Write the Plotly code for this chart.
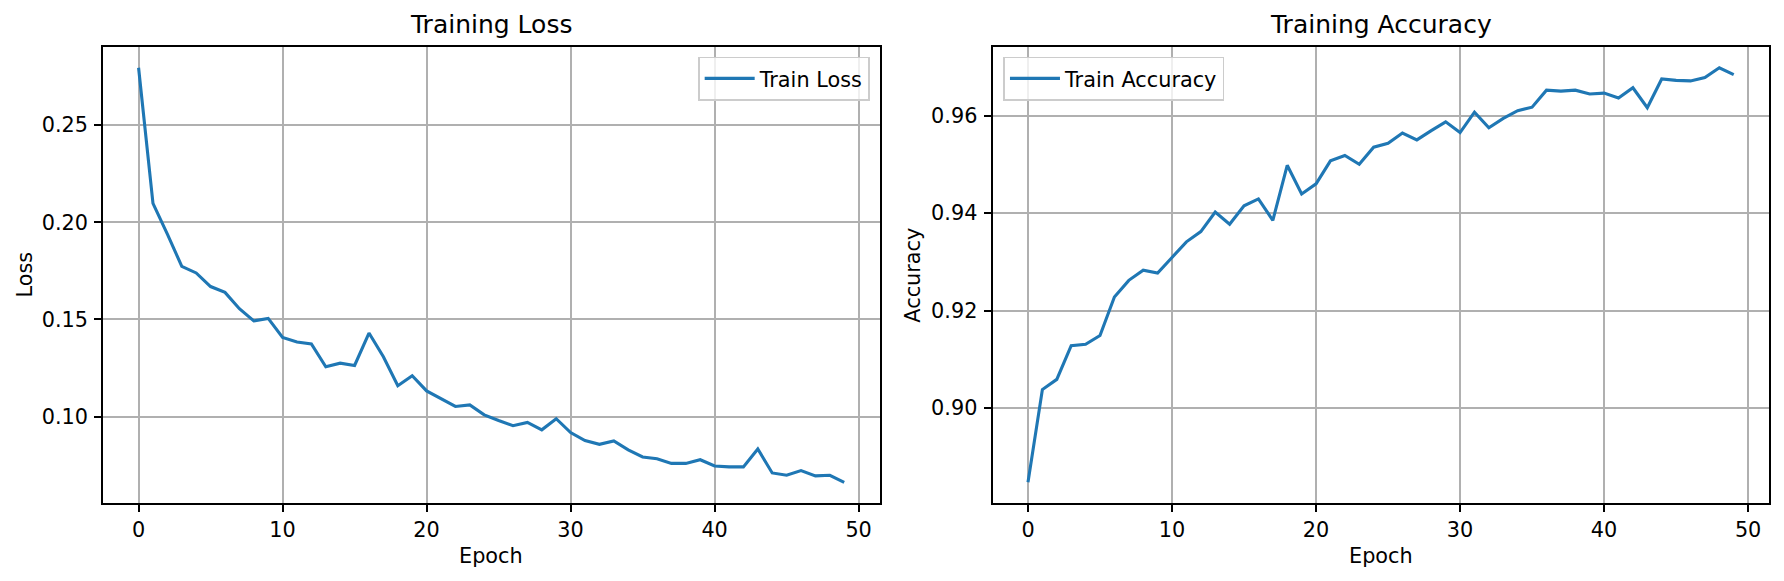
import plotly.graph_objects as go

epochs = list(range(50))
train_loss = [0.2795, 0.2097, 0.1939, 0.1773, 0.1739, 0.1669, 0.1639, 0.1555, 0.1492, 0.1505,
              0.1407, 0.1384, 0.1374, 0.1256, 0.1275, 0.1263, 0.1430, 0.1308, 0.1159, 0.1210,
              0.1132, 0.1094, 0.1052, 0.1060, 0.1009, 0.0980, 0.0953, 0.0970, 0.0932, 0.0989,
              0.0918, 0.0877, 0.0857, 0.0875, 0.0829, 0.0792, 0.0783, 0.0759, 0.0759, 0.0778,
              0.0746, 0.0741, 0.0741, 0.0833, 0.0710, 0.0698, 0.0722, 0.0695, 0.0698, 0.0662]
train_acc = [0.8848, 0.9038, 0.9059, 0.9128, 0.9131, 0.9149, 0.9228, 0.9262, 0.9283, 0.9277,
             0.9309, 0.9341, 0.9362, 0.9402, 0.9377, 0.9415, 0.9429, 0.9385, 0.9498, 0.9439,
             0.9460, 0.9507, 0.9518, 0.9500, 0.9535, 0.9543, 0.9564, 0.9550, 0.9569, 0.9587,
             0.9565, 0.9607, 0.9575, 0.9594, 0.9610, 0.9617, 0.9652, 0.9650, 0.9652, 0.9644,
             0.9646, 0.9636, 0.9657, 0.9616, 0.9675, 0.9672, 0.9671, 0.9678, 0.9698, 0.9684]
x_ticks = [0, 10, 20, 30, 40, 50]
loss_ticks = [0.10, 0.15, 0.20, 0.25]
acc_ticks = [0.90, 0.92, 0.94, 0.96]

W, H = 1784, 581
FONT = "DejaVu Sans"
BLUE = "#1f77b4"


def pad(vals, frac=0.05):
    lo, hi = min(vals), max(vals)
    d = (hi - lo) * frac
    return [lo - d, hi + d]


# axes boxes in pixels
L1, R1 = 103.3, 879.5
L2, R2 = 992.7, 1769.0
TOP, BOT = 47.0, 503.0
ydom = [1 - BOT / H, 1 - TOP / H]

fig = go.Figure()
fig.add_trace(go.Scatter(x=epochs, y=train_loss, mode="lines", name="Train Loss",
                         line=dict(color=BLUE, width=3.1), xaxis="x", yaxis="y",
                         legend="legend"))
fig.add_trace(go.Scatter(x=epochs, y=train_acc, mode="lines", name="Train Accuracy",
                         line=dict(color=BLUE, width=3.1), xaxis="x2", yaxis="y2",
                         legend="legend2"))

axis_common = dict(showline=True, mirror=True, linecolor="black", linewidth=1.67,
                   showgrid=True, gridcolor="#b0b0b0", gridwidth=1.67, zeroline=False,
                   ticks="outside", ticklen=7.3, tickwidth=1.67, tickcolor="black",
                   tickfont=dict(family=FONT, size=20.8, color="black"))

xr = pad(epochs)
legend_common = dict(bgcolor="rgba(255,255,255,0.8)", bordercolor="#cccccc", borderwidth=1.67,
                     itemwidth=50, font=dict(family=FONT, size=20.8, color="black"))
fig.update_layout(
    width=W, height=H,
    margin=dict(l=0, r=0, t=0, b=0),
    paper_bgcolor="white", plot_bgcolor="white",
    font=dict(family=FONT, size=20.8, color="black"),
    xaxis=dict(domain=[L1 / W, R1 / W], range=xr, tickvals=x_ticks, anchor="y",
               ticklabelstandoff=0, **axis_common),
    yaxis=dict(domain=ydom, range=pad(train_loss), tickvals=loss_ticks, tickformat=".2f",
               anchor="x", ticklabelstandoff=2, **axis_common),
    xaxis2=dict(domain=[L2 / W, R2 / W], range=xr, tickvals=x_ticks, anchor="y2",
                ticklabelstandoff=0, **axis_common),
    yaxis2=dict(domain=ydom, range=pad(train_acc), tickvals=acc_ticks, tickformat=".2f",
                anchor="x2", ticklabelstandoff=2, **axis_common),
    legend=dict(x=870 / W, y=1 - 56.7 / H, xanchor="right", yanchor="top", **legend_common),
    legend2=dict(x=1003.3 / W, y=1 - 56.7 / H, xanchor="left", yanchor="top", **legend_common),
    showlegend=True,
)

ann = []
for (l, r, title) in [(L1, R1, "Training Loss"), (L2, R2, "Training Accuracy")]:
    ann.append(dict(text=title, xref="paper", yref="paper", x=(l + r) / 2 / W,
                    y=1 - TOP / H, xanchor="center", yanchor="bottom", yshift=6,
                    showarrow=False, font=dict(family=FONT, size=25, color="black")))
    ann.append(dict(text="Epoch", xref="paper", yref="paper", x=(l + r) / 2 / W,
                    y=1 - 556 / H, xanchor="center", yanchor="middle",
                    showarrow=False, font=dict(family=FONT, size=20.8, color="black")))
ann.append(dict(text="Loss", xref="paper", yref="paper", x=24.5 / W, y=sum(ydom) / 2,
                xanchor="center", yanchor="middle", textangle=-90, showarrow=False,
                font=dict(family=FONT, size=20.8, color="black")))
ann.append(dict(text="Accuracy", xref="paper", yref="paper", x=(870 + 128 / 3) / W,
                y=sum(ydom) / 2, xanchor="center", yanchor="middle", textangle=-90,
                showarrow=False, font=dict(family=FONT, size=20.8, color="black")))
fig.update_layout(annotations=ann)

fig.write_html("out.html",
               config={"displayModeBar": False},
               post_script="document.body.style.margin='0';document.body.style.overflow='hidden';")
